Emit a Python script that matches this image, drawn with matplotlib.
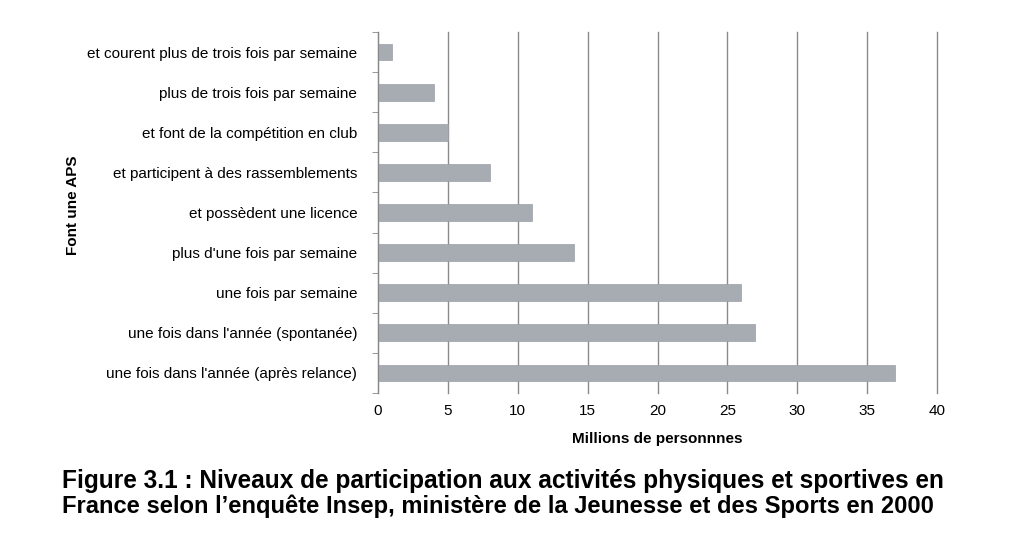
import matplotlib
matplotlib.use("Agg")
import matplotlib.pyplot as plt
from matplotlib.ticker import MultipleLocator

categories = [
    "une fois dans l'année (après relance)",
    "une fois dans l'année (spontanée)",
    "une fois par semaine",
    "plus d'une fois par semaine",
    "et possèdent une licence",
    "et participent à des rassemblements",
    "et font de la compétition en club",
    "plus de trois fois par semaine",
    "et courent plus de trois fois par semaine",
]
values = [37, 27, 26, 14, 11, 8, 5, 4, 1]
title_lines = [
    "Figure 3.1 : Niveaux de participation aux activités physiques et sportives en",
    "France selon l\u2019enquête Insep, ministère de la Jeunesse et des Sports en 2000",
]

fig = plt.figure(figsize=(10.32, 5.46), dpi=100)
W, H = 1032, 546
ax = fig.add_axes([378 / W, 1 - 393 / H, (937 - 378) / W, (393 - 32) / H])

y = list(range(len(categories)))
ax.barh(y, values, height=0.42, color="#a7abb2", edgecolor="#9a9ea5", linewidth=0.5, zorder=3)
ax.set_xlim(0, 40)
ax.set_ylim(-0.5, len(categories) - 0.5)
ax.xaxis.set_major_locator(MultipleLocator(5))
ax.set_yticks(y)
ax.set_yticklabels(categories, fontsize=11, family="Liberation Sans")
ax.set_yticks([i - 0.5 for i in range(len(categories) + 1)], minor=True)
ax.tick_params(axis="y", which="major", length=0, pad=15)
ax.tick_params(axis="y", which="minor", length=4, color="#888888")
ax.tick_params(axis="x", length=0, labelsize=11, pad=8)
for lab in ax.get_xticklabels():
    lab.set_family("Liberation Sans")
ax.grid(axis="x", color="#8a8a8a", linewidth=1.0, zorder=0)
for gl in ax.get_xgridlines():
    gl.set_clip_on(False)
for s in ["top", "right", "bottom"]:
    ax.spines[s].set_visible(False)
ax.spines["left"].set_color("#888888")
ax.spines["left"].set_zorder(4)
ax.set_xlabel("Millions de personnnes", fontsize=11, fontweight="bold",
              family="Liberation Sans", labelpad=10)

fig.text(73 / W, 1 - 205 / H, "Font une APS", rotation=90, ha="center", va="center",
         fontsize=11, fontweight="bold", family="Liberation Sans")

renderer = fig.canvas.get_renderer()
targets = [881, 868]
ys = [481, 506]
for line, tw, yy in zip(title_lines, targets, ys):
    t = fig.text(62 / W, 1 - yy / H, line, ha="left", va="center",
                 fontsize=16, fontweight="bold", family="Liberation Sans")
    w = t.get_window_extent(renderer).width
    t.set_fontsize(16 * tw / w)

fig.savefig("out.png", dpi=100)
